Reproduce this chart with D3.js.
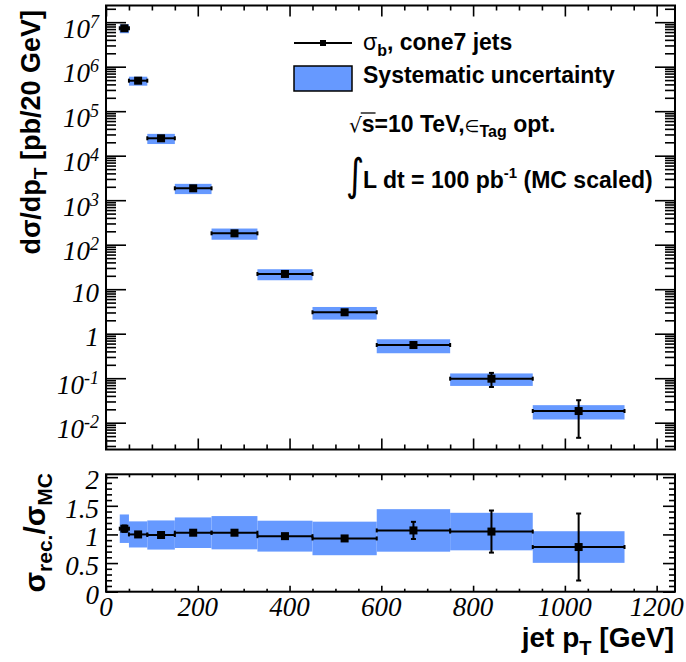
<!DOCTYPE html>
<html><head><meta charset="utf-8">
<script src="https://cdn.jsdelivr.net/npm/d3@7"></script>
<style>body{margin:0;background:#fff}svg{display:block}</style>
</head><body><svg id="c" width="686" height="662"></svg>
<script>
// ---- data ----
const binLo = [30, 50, 90, 150, 230, 330, 450, 590, 750, 930];
const binHi = [50, 90, 150, 230, 330, 450, 590, 750, 930, 1130];
const binCenter = [40, 70, 120, 190, 280, 390, 520, 670, 840, 1030];
const xsec = [7.3e6, 4.85e5, 2.46e4, 1850, 180, 22, 3.03, 0.557, 0.0975, 0.0183];
const statRel = [0.05, 0.02, 0.02, 0.02, 0.02, 0.03, 0.04, 0.14, 0.35, 0.75];
const systRel = [0.226, 0.228, 0.257, 0.259, 0.282, 0.278, 0.315, 0.347, 0.312, 0.354];
const ratio = [1.10, 1.00, 0.99, 1.03, 1.03, 0.97, 0.93, 1.07, 1.05, 0.78];
const xTickLabels = [0, 200, 400, 600, 800, 1000, 1200];
const yDecades = [-2, -1, 0, 1, 2, 3, 4, 5, 6, 7];
const ratioTicks = [0, 0.5, 1, 1.5, 2];
const ratioTickLabels = ["0", "0.5", "1", "1.5", "2"];
const legendLabels = ["cone7 jets", "Systematic uncertainty"];

const BLUE = "#6699ff";
const svg = d3.select("#c");
const L = 106, R = 675, T1 = 5.5, B1 = 449.5, T2 = 474.3, B2 = 591.7;
const x = d3.scaleLinear([0, 1240], [L, R]);
const y1 = d3.scaleLog([2.5e-3, 2.37e7], [B1, T1]);
const y2 = d3.scaleLinear([0, 2.05], [B2, T2]);
const idx = d3.range(binLo.length);

const xMinor = d3.range(0, 1240, 50).filter(v => v % 200 !== 0);
const logMinor = [];
for (let d = -3; d <= 7; d++) for (let k = 2; k <= 9; k++) { const v = k * Math.pow(10, d); if (v > 2.5e-3 && v < 2.37e7) logMinor.push(v); }
const ratioMinor = d3.range(0, 2.05, 0.1).filter(v => Math.abs(v * 2 - Math.round(v * 2)) > 1e-6);
const majorY1 = yDecades.map(n => Math.pow(10, n));

function axis(gen, tf, vals, size) {
  const g = svg.append("g").attr("transform", tf)
    .call(gen.tickValues(vals).tickSize(size).tickFormat(""));
  g.select(".domain").remove();
  g.selectAll("line").attr("stroke", "#000").attr("stroke-width", 1.6);
}
// top panel ticks
axis(d3.axisBottom(x), `translate(0,${B1})`, xTickLabels, -11);
axis(d3.axisBottom(x), `translate(0,${B1})`, xMinor, -5);
axis(d3.axisTop(x), `translate(0,${T1})`, xTickLabels, -11);
axis(d3.axisTop(x), `translate(0,${T1})`, xMinor, -5);
axis(d3.axisLeft(y1), `translate(${L},0)`, majorY1, -20);
axis(d3.axisLeft(y1), `translate(${L},0)`, logMinor, -10);
axis(d3.axisRight(y1), `translate(${R},0)`, majorY1, -20);
axis(d3.axisRight(y1), `translate(${R},0)`, logMinor, -10);
// bottom panel ticks
axis(d3.axisBottom(x), `translate(0,${B2})`, xTickLabels, -6);
axis(d3.axisBottom(x), `translate(0,${B2})`, xMinor, -3);
axis(d3.axisTop(x), `translate(0,${T2})`, xTickLabels, -6);
axis(d3.axisTop(x), `translate(0,${T2})`, xMinor, -3);
axis(d3.axisLeft(y2), `translate(${L},0)`, ratioTicks, -12);
axis(d3.axisLeft(y2), `translate(${L},0)`, ratioMinor, -6);
axis(d3.axisRight(y2), `translate(${R},0)`, ratioTicks, -12);
axis(d3.axisRight(y2), `translate(${R},0)`, ratioMinor, -6);

// ---- top panel data ----
const gTop = svg.append("g");
gTop.selectAll("rect.sys").data(idx).join("rect")
  .attr("x", i => x(binLo[i])).attr("width", i => x(binHi[i]) - x(binLo[i]))
  .attr("y", i => y1(xsec[i] * (1 + systRel[i])))
  .attr("height", i => y1(xsec[i] * (1 - systRel[i])) - y1(xsec[i] * (1 + systRel[i])))
  .attr("fill", BLUE);
function errBars(g, ys, vals, errs) {
  g.selectAll(null).data(idx).join("line")
    .attr("x1", i => x(binLo[i])).attr("x2", i => x(binHi[i]))
    .attr("y1", i => ys(vals[i])).attr("y2", i => ys(vals[i]))
    .attr("stroke", "#000").attr("stroke-width", 2);
  [binLo, binHi].forEach(arr => {
    g.selectAll(null).data(idx).join("line")
      .attr("x1", i => x(arr[i])).attr("x2", i => x(arr[i]))
      .attr("y1", i => ys(vals[i]) - 2).attr("y2", i => ys(vals[i]) + 2)
      .attr("stroke", "#000").attr("stroke-width", 2);
  });
  g.selectAll(null).data(idx).join("line")
    .attr("x1", i => x(binCenter[i])).attr("x2", i => x(binCenter[i]))
    .attr("y1", i => ys(vals[i] + errs[i])).attr("y2", i => ys(vals[i] - errs[i]))
    .attr("stroke", "#000").attr("stroke-width", 2);
  [1, -1].forEach(s => {
    g.selectAll(null).data(idx).join("line")
      .attr("x1", i => x(binCenter[i]) - 2.5).attr("x2", i => x(binCenter[i]) + 2.5)
      .attr("y1", i => ys(vals[i] + s * errs[i])).attr("y2", i => ys(vals[i] + s * errs[i]))
      .attr("stroke", "#000").attr("stroke-width", 2);
  });
  g.selectAll(null).data(idx).join("rect")
    .attr("x", i => x(binCenter[i]) - 4).attr("y", i => ys(vals[i]) - 4)
    .attr("width", 8).attr("height", 8).attr("fill", "#000");
}
errBars(gTop, y1, xsec, idx.map(i => xsec[i] * statRel[i]));

// ---- ratio panel data ----
const gBot = svg.append("g");
gBot.selectAll("rect.sys").data(idx).join("rect")
  .attr("x", i => x(binLo[i])).attr("width", i => x(binHi[i]) - x(binLo[i]))
  .attr("y", i => y2(ratio[i] * (1 + systRel[i])))
  .attr("height", i => y2(ratio[i] * (1 - systRel[i])) - y2(ratio[i] * (1 + systRel[i])))
  .attr("fill", BLUE);
errBars(gBot, y2, ratio, idx.map(i => ratio[i] * statRel[i]));

// frames
[[T1, B1], [T2, B2]].forEach(([t, b]) => svg.append("rect").attr("x", L).attr("y", t)
  .attr("width", R - L).attr("height", b - t).attr("fill", "none").attr("stroke", "#000").attr("stroke-width", 2));

// ---- tick labels ----
const serif = "'Liberation Serif', 'Times New Roman', serif";
const sans = "'Liberation Sans', Arial, Helvetica, sans-serif";
yDecades.forEach(n => {
  const yy = y1(Math.pow(10, n));
  const t = svg.append("text").attr("x", 99).attr("text-anchor", "end")
    .attr("font-family", serif).attr("font-style", "italic").attr("font-size", 27);
  if (n === 0 || n === 1) {
    t.attr("y", yy + 12.5).text(n === 0 ? "1" : "10");
  } else {
    t.attr("y", yy + 15.5);
    t.append("tspan").text("10");
    t.append("tspan").attr("font-size", 18).attr("dy", -10).text(String(n));
  }
});
xTickLabels.forEach(v => svg.append("text").attr("x", x(v)).attr("y", 616).attr("text-anchor", "middle")
  .attr("font-family", serif).attr("font-style", "italic").attr("font-size", 27).text(String(v)));
ratioTicks.forEach((v, i) => svg.append("text").attr("x", 99).attr("y", y2(v) + 12).attr("text-anchor", "end")
  .attr("font-family", serif).attr("font-style", "italic").attr("font-size", 27).text(ratioTickLabels[i]));

// ---- axis titles ----
const yt = svg.append("text").attr("transform", "translate(40,10) rotate(-90)").attr("text-anchor", "end")
  .attr("font-family", sans).attr("font-weight", "bold").attr("font-size", 27);
yt.append("tspan").text("dσ/dp");
yt.append("tspan").attr("font-size", 19).attr("dy", 7).text("T");
yt.append("tspan").attr("dy", -7).text(" [pb/20 GeV]");

const rt = svg.append("text").attr("transform", "translate(45,473) rotate(-90)").attr("text-anchor", "end")
  .attr("font-family", sans).attr("font-weight", "bold").attr("font-size", 30);
rt.append("tspan").text("σ");
rt.append("tspan").attr("font-size", 21).attr("dy", 7).text("rec.");
rt.append("tspan").attr("dy", -7).text("/σ");
rt.append("tspan").attr("font-size", 21).attr("dy", 7).text("MC");

const xt = svg.append("text").attr("x", 674).attr("y", 647).attr("text-anchor", "end")
  .attr("font-family", sans).attr("font-weight", "bold").attr("font-size", 28);
xt.append("tspan").text("jet p");
xt.append("tspan").attr("font-size", 20).attr("dy", 8).text("T");
xt.append("tspan").attr("dy", -8).text(" [GeV]");

// ---- legend ----
svg.append("line").attr("x1", 294).attr("x2", 352).attr("y1", 43).attr("y2", 43).attr("stroke", "#000").attr("stroke-width", 2);
svg.append("rect").attr("x", 320).attr("y", 40).attr("width", 6).attr("height", 6).attr("fill", "#000");
const l1 = svg.append("text").attr("x", 363).attr("y", 50).attr("font-family", sans).attr("font-weight", "bold").attr("font-size", 23);
l1.append("tspan").attr("font-weight", "normal").text("σ");
l1.append("tspan").attr("font-size", 16).attr("dy", 6).text("b");
l1.append("tspan").attr("dy", -6).text(", " + legendLabels[0]);
svg.append("rect").attr("x", 294).attr("y", 66).attr("width", 58).attr("height", 25).attr("fill", BLUE).attr("stroke", "#000").attr("stroke-width", 1.5);
svg.append("text").attr("x", 363).attr("y", 83).attr("font-family", sans).attr("font-weight", "bold").attr("font-size", 23).text(legendLabels[1]);

// ---- annotations ----
const a1 = svg.append("text").attr("x", 349).attr("y", 132).attr("font-family", sans).attr("font-weight", "bold").attr("font-size", 23);
a1.append("tspan").attr("font-weight", "normal").attr("font-family", "'DejaVu Sans', sans-serif").attr("font-size", 20).text("√");
a1.append("tspan").text("s=10 TeV,");
a1.append("tspan").attr("font-weight", "normal").attr("font-family", "'DejaVu Sans', sans-serif").attr("font-size", 17).text("∈");
a1.append("tspan").attr("font-size", 16).attr("dy", 5).text("Tag");
a1.append("tspan").attr("dy", -5).text(" opt.");
{
  const node = a1.node();
  const s0 = node.getStartPositionOfChar(1).x, s1 = node.getEndPositionOfChar(1).x;
  svg.append("line").attr("x1", s0 - 1).attr("x2", s1 + 1).attr("y1", 113).attr("y2", 113).attr("stroke", "#000").attr("stroke-width", 1.3);
}
svg.append("text").attr("transform", "translate(346,190) scale(0.8,1)").attr("font-family", "'DejaVu Sans', sans-serif")
  .attr("font-size", 44).text("∫");
const a2 = svg.append("text").attr("x", 363).attr("y", 188).attr("font-family", sans).attr("font-weight", "bold").attr("font-size", 23);
a2.append("tspan").text("L dt = 100 pb");
a2.append("tspan").attr("font-size", 15).attr("dy", -10).text("-1");
a2.append("tspan").attr("dy", 10).text(" (MC scaled)");
</script></body></html>
